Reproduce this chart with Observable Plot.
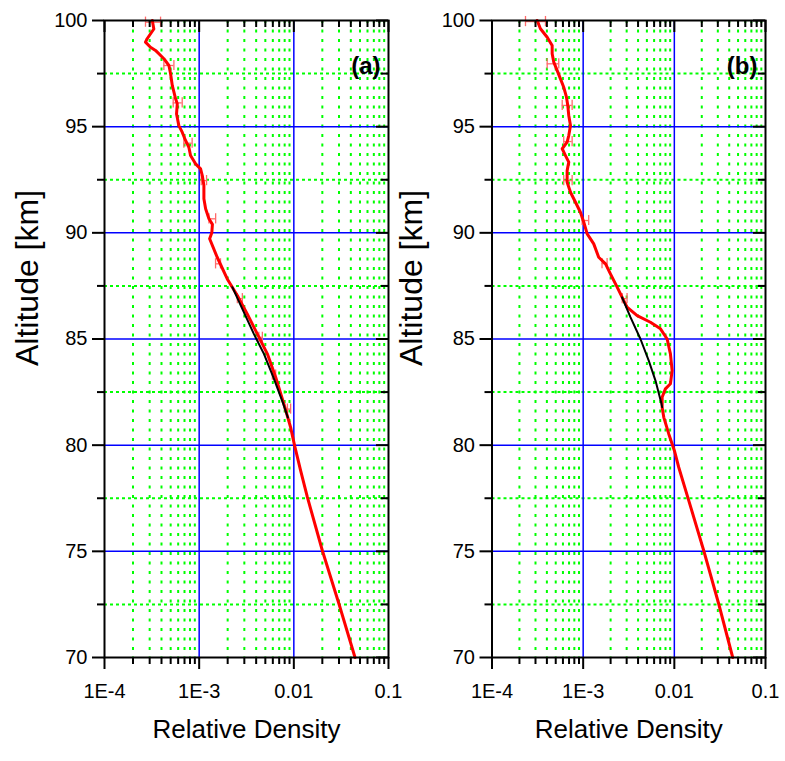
<!DOCTYPE html>
<html><head><meta charset="utf-8">
<script src="https://cdn.jsdelivr.net/npm/d3@7"></script>
<script src="https://cdn.jsdelivr.net/npm/@observablehq/plot@0.6"></script>
<style>
html,body{margin:0;padding:0;background:#fff;}
#wrap{display:flex;width:785px;height:761px;overflow:hidden;background:#fff;}
#wrap svg{display:block;flex:none;}
</style></head><body><div id="wrap"></div>
<script>
// ---- tick values & labels ----
const yTicks = [70, 75, 80, 85, 90, 95, 100];
const yMinor = [72.5, 77.5, 82.5, 87.5, 92.5, 97.5];
const yBlueGrid = [75, 80, 85, 90, 95];
const xTicks = [1e-4, 1e-3, 1e-2, 1e-1];
const xTickLabels = ["1E-4", "1E-3", "0.01", "0.1"];
const xBlueGrid = [1e-3, 1e-2];
const minorMultipliers = [2, 3, 4, 5, 6, 7, 8, 9];
const decades = [1e-4, 1e-3, 1e-2];
const xMinor = decades.flatMap(d => minorMultipliers.map(m => m * d));

// ---- panel (a) ----
const altA = [100.0, 99.6, 99.14, 98.98, 98.74, 98.59, 98.2, 97.88, 97.49, 96.94, 96.31, 96.08, 95.6, 95.05, 94.74, 94.35, 94.03, 93.64, 93.25, 93.01, 92.7, 92.23, 91.6, 91.13, 90.66, 90.4, 90.0, 89.72, 88.85, 87.83, 87.05, 86.18, 85.24, 84.3, 83.2, 81.94, 80.84, 79.98, 78.8, 77.55, 75.04, 72.52, 70.0];
const redA = [3.2e-4, 3.32e-4, 2.82e-4, 2.71e-4, 3.06e-4, 3.46e-4, 4.24e-4, 4.79e-4, 4.99e-4, 5.2e-4, 5.64e-4, 5.87e-4, 5.77e-4, 6.1e-4, 6.62e-4, 7.18e-4, 7.78e-4, 8.11e-4, 9.16e-4, 1.035e-3, 1.079e-3, 1.122e-3, 1.122e-3, 1.17e-3, 1.268e-3, 1.38e-3, 1.36e-3, 1.29e-3, 1.55e-3, 1.98e-3, 2.53e-3, 3.22e-3, 4.11e-3, 5.25e-3, 6.43e-3, 7.85e-3, 9.25e-3, 1.019e-2, 1.18e-2, 1.39e-2, 2.0e-2, 3.0e-2, 4.43e-2];
const altBlackA = [87.44, 86.18, 85.24, 84.3, 83.2, 81.94, 81.3];
const blackA = [2.24e-3, 3.02e-3, 3.78e-3, 4.83e-3, 6.07e-3, 7.74e-3, 8.65e-3];
const errAltA = [99.92, 97.88, 96.12, 94.22, 92.46, 90.66, 88.54, 86.9, 85.08, 83.3, 81.7];
const errLoA = [2.71e-4, 4.24e-4, 5.32e-4, 6.89e-4, 1.052e-3, 1.268e-3, 1.49e-3, 2.53e-3, 4.27e-3, 5.93e-3, 8.55e-3];
const errHiA = [3.91e-4, 5.41e-4, 6.62e-4, 8.43e-4, 1.197e-3, 1.493e-3, 1.68e-3, 2.86e-3, 4.65e-3, 6.43e-3, 9.25e-3];

// ---- panel (b) ----
const altB = [100.0, 99.61, 99.21, 98.82, 98.43, 98.04, 97.64, 97.25, 96.86, 96.39, 96.0, 95.53, 95.05, 94.58, 94.27, 93.96, 93.64, 93.33, 92.93, 92.38, 91.91, 91.44, 90.97, 90.5, 89.95, 89.48, 88.85, 88.54, 88.07, 87.44, 86.81, 86.5, 86.1, 85.79, 85.48, 85.0, 84.3, 83.51, 82.89, 82.65, 82.26, 81.79, 81.31, 80.53, 79.75, 78.96, 77.39, 75.04, 72.52, 70.0];
const redB = [3.13e-4, 3.4e-4, 4.03e-4, 4.57e-4, 4.57e-4, 4.76e-4, 5.19e-4, 5.64e-4, 6.12e-4, 6.56e-4, 6.78e-4, 6.95e-4, 7.26e-4, 6.95e-4, 6.67e-4, 5.89e-4, 6.4e-4, 6.95e-4, 6.67e-4, 6.67e-4, 7.26e-4, 8.24e-4, 9.33e-4, 1.016e-3, 1.107e-3, 1.306e-3, 1.48e-3, 1.76e-3, 1.99e-3, 2.36e-3, 2.79e-3, 3.03e-3, 3.91e-3, 5.47e-3, 7.05e-3, 8.34e-3, 9.06e-3, 9.46e-3, 9.06e-3, 7.98e-3, 7.35e-3, 7.35e-3, 7.66e-3, 8.69e-3, 1.0e-2, 1.117e-2, 1.44e-2, 2.1e-2, 3.07e-2, 4.37e-2];
const altBlackB = [86.96, 86.03, 85.0, 83.98, 83.04, 82.02, 81.79];
const blackB = [2.67e-3, 3.3e-3, 4.25e-3, 5.24e-3, 6.21e-3, 7.16e-3, 7.35e-3];
const errAltB = [99.95, 97.96, 96.0, 94.3, 92.46, 90.58, 88.55, 86.9];
const errLoB = [2.33e-4, 4.03e-4, 5.89e-4, 6.12e-4, 6.12e-4, 9.75e-4, 1.61e-3, 2.68e-3];
const errHiB = [3.86e-4, 5.4e-4, 7.57e-4, 7.57e-4, 7.57e-4, 1.15e-3, 1.83e-3, 3.03e-3];

const FONT = "'Liberation Sans', Arial, Helvetica, sans-serif";

function panel({w, ml, mr, alt, red, altBlack, black, errAlt, errLo, errHi, tag, titleX}) {
  const H = 761, mt = 20, mb = 104;
  const pw = w - ml - mr, ph = H - mt - mb;
  const redData = alt.map((a, i) => ({alt: a, v: red[i]}));
  const blackData = altBlack.map((a, i) => ({alt: a, v: black[i]}));
  const errData = errAlt.map((a, i) => ({alt: a, lo: errLo[i], hi: errHi[i]}));
  const capH = 0.24;
  const MAJ = 12, MIN = 7;
  const tk = {stroke: "black", strokeWidth: 2};
  const errStyle = {stroke: "#ff6a6a", strokeWidth: 1.3};
  return Plot.plot({
    width: w, height: H,
    marginLeft: ml, marginRight: mr, marginTop: mt, marginBottom: mb,
    style: {fontFamily: FONT, fontSize: "20px", color: "black", background: "transparent", overflow: "visible"},
    x: {type: "log", domain: [1e-4, 0.1]},
    y: {domain: [70, 100]},
    marks: [
      Plot.ruleX(xMinor, {stroke: "#00ff00", strokeWidth: 2, strokeDasharray: "3,6.5"}),
      Plot.ruleY(yMinor, {stroke: "#00ff00", strokeWidth: 2, strokeDasharray: "3,3"}),
      Plot.ruleX(xBlueGrid, {stroke: "#0000ff", strokeWidth: 1.5}),
      Plot.ruleY(yBlueGrid, {stroke: "#0000ff", strokeWidth: 1.5}),
      Plot.ruleY(errData, {y: "alt", x1: "lo", x2: "hi", ...errStyle}),
      Plot.ruleX(errData, {x: "lo", y1: d => d.alt - capH, y2: d => d.alt + capH, ...errStyle}),
      Plot.ruleX(errData, {x: "hi", y1: d => d.alt - capH, y2: d => d.alt + capH, ...errStyle}),
      Plot.line(redData, {x: "v", y: "alt", stroke: "#ff0000", strokeWidth: 3, strokeLinejoin: "round"}),
      Plot.line(blackData, {x: "v", y: "alt", stroke: "#000000", strokeWidth: 2}),
      Plot.frame({stroke: "black", strokeWidth: 2}),
      // left outward ticks
      Plot.tickY(yTicks, {...tk, insetLeft: -MAJ, insetRight: pw}),
      Plot.tickY(yMinor, {...tk, insetLeft: -MIN, insetRight: pw}),
      // right inward ticks
      Plot.tickY(yTicks, {...tk, insetLeft: pw - MAJ, insetRight: 0}),
      Plot.tickY(yMinor, {...tk, insetLeft: pw - MIN, insetRight: 0}),
      // bottom outward ticks
      Plot.tickX(xTicks, {...tk, insetTop: ph, insetBottom: -MAJ}),
      Plot.tickX(xMinor, {...tk, insetTop: ph, insetBottom: -MIN}),
      // top inward ticks
      Plot.tickX(xTicks, {...tk, insetTop: 0, insetBottom: ph - MAJ}),
      Plot.tickX(xMinor, {...tk, insetTop: 0, insetBottom: ph - MIN}),
      Plot.axisY(yTicks, {tickSize: 0, tickPadding: 17, label: null, fontSize: 20}),
      Plot.axisX(xTicks, {tickSize: 0, tickPadding: 26, label: null, fontSize: 20,
        tickFormat: d => xTickLabels[xTicks.indexOf(d)]}),
      Plot.text([tag], {frameAnchor: "top-right", dx: -8, dy: 36, textAnchor: "end", fontWeight: "bold", fontSize: 24}),
      Plot.text(["Relative Density"], {frameAnchor: "bottom", dy: 80, fontSize: 26}),
      Plot.text(["Altitude [km]"], {frameAnchor: "left", dx: -(ml - titleX), dy: 27, rotate: -90, fontSize: 32})
    ]
  });
}

const wrap = document.getElementById("wrap");
wrap.appendChild(panel({w: 392, ml: 104, mr: 4, alt: altA, red: redA, altBlack: altBlackA, black: blackA,
  errAlt: errAltA, errLo: errLoA, errHi: errHiA, tag: "(a)", titleX: 27}));
wrap.appendChild(panel({w: 393, ml: 99.5, mr: 20, alt: altB, red: redB, altBlack: altBlackB, black: blackB,
  errAlt: errAltB, errLo: errLoB, errHi: errHiB, tag: "(b)", titleX: 19}));
</script>
</body></html>
